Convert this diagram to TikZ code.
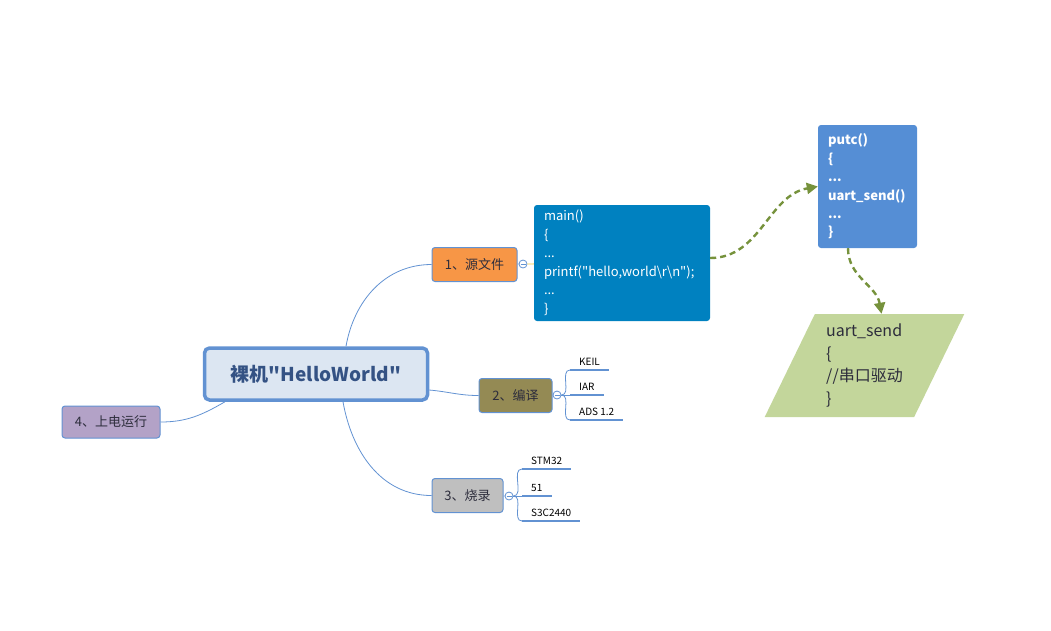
\documentclass[tikz,border=0pt]{standalone}
\usepackage{fontspec}
\setmainfont{Noto Sans CJK SC}
\newfontfamily\cjkfont{Noto Sans CJK SC}
\usetikzlibrary{arrows.meta,positioning,shapes.geometric}

\definecolor{linec}{RGB}{98,146,210}
\definecolor{hwfill}{RGB}{220,230,242}
\definecolor{hwtext}{RGB}{52,82,132}
\definecolor{txtc}{RGB}{45,45,60}
\definecolor{srcfill}{RGB}{247,150,70}
\definecolor{compfill}{RGB}{148,138,84}
\definecolor{burnfill}{RGB}{191,191,191}
\definecolor{runfill}{RGB}{179,162,199}
\definecolor{mainfill}{RGB}{0,129,192}
\definecolor{putcfill}{RGB}{85,142,213}
\definecolor{uartfill}{RGB}{195,214,155}
\definecolor{flowc}{RGB}{118,146,60}
\definecolor{tipc}{RGB}{240,200,60}

\begin{document}
\begin{tikzpicture}[
  x=1pt, y=-1pt,
  every node/.style={font=\cjkfont\fontsize{13}{16}\selectfont},
  topic/.style ={draw=linec, line width=1pt, rounded corners=3pt,
                 minimum height=34pt, text=txtc, inner sep=0pt},
  fold/.style  ={circle, draw=linec, fill=white, line width=0.8pt,
                 minimum size=8pt, inner sep=0pt,
                 path picture={\draw[linec, line width=0.6pt]
                   ([xshift=-2.5pt]path picture bounding box.center) --
                   ([xshift=2.5pt]path picture bounding box.center);}},
  leaf/.style  ={anchor=south west, inner xsep=9pt, inner ysep=4pt,
                 text depth=0pt, text=black,
                 font=\cjkfont\fontsize{10}{12}\selectfont},
  conn/.style  ={draw=linec, line width=0.8pt},
  uline/.style ={draw=linec, line width=2pt},
  code/.style  ={rounded corners=3pt, text=white, align=left,
                 inner xsep=10pt, inner ysep=0pt,
                 font=\cjkfont\fontsize{13}{18.5}\selectfont},
  flow/.style  ={draw=flowc, line width=2.4pt, dash pattern=on 6pt off 4pt,
                 -{Triangle[length=11pt,width=11pt]}}
]
\useasboundingbox (0,0) rectangle (1051,630);

% central topic
\node[draw=linec, line width=3.5pt, fill=hwfill, rounded corners=5pt,
      minimum width=223pt, minimum height=52pt, text=hwtext,
      font=\cjkfont\fontsize{19}{22}\selectfont\bfseries] (hw) at (316,374)
     {裸机"HelloWorld"};

% main branches
\node[topic, fill=srcfill,  minimum width=85pt] (src)  at (474.5,264.5) {1、源文件};
\node[topic, fill=compfill, minimum width=73pt] (comp) at (515.5,395.5) {2、编译};
\node[topic, fill=burnfill, minimum width=71pt] (burn) at (467.5,495.5) {3、烧录};
\node[topic, fill=runfill,  minimum width=98pt, minimum height=32pt] (run) at (111,422) {4、上电运行};

\draw[conn] ([xshift=30pt]hw.north) to[out=80,in=180] (src.west);
\draw[conn] ([yshift=-16pt]hw.east) to[out=-5,in=180] (comp.west);
\draw[conn] ([xshift=27pt]hw.south) to[out=-80,in=180] (burn.west);
\draw[conn] ([xshift=-91pt]hw.south) to[out=-150,in=0] (run.east);

% fold marks
\node[fold] (cSrc)  at (523,264) {};
\node[fold] (cComp) at (557,395) {};
\node[fold] (cBurn) at (509,496) {};
\draw[conn] (src)  -- (cSrc);
\draw[conn] (comp) -- (cComp);
\draw[conn] (burn) -- (cBurn);

% compilers
\node[leaf] (keil) at (570,370) {KEIL};
\node[leaf] (iar)  at (570,395) {IAR};
\node[leaf] (ads)  at (570,420) {ADS 1.2};
\foreach \n in {keil,iar,ads}
  \draw[conn] (cComp.east) to[out=0,in=180] (\n.south west);
\foreach \n in {keil,iar,ads}
  \draw[uline] (\n.south west) -- (\n.south east);

% boards
\node[leaf] (stm)  at (522,469) {STM32};
\node[leaf] (five) at (522,496) {51};
\node[leaf] (s3c)  at (522,521) {S3C2440};
\foreach \n in {stm,five,s3c}
  \draw[conn] (cBurn.east) to[out=0,in=180] (\n.south west);
\foreach \n in {stm,five,s3c}
  \draw[uline] (\n.south west) -- (\n.south east);

% source code chain
\node[code, fill=mainfill, text width=156pt, minimum height=116pt] (mainc) at (622,263)
     {main()\\\{\\...\\printf("hello,world\textbackslash r\textbackslash n");\\...\\\}};
\draw[tipc, line width=0.8pt] (cSrc) -- (mainc);

\node[code, fill=putcfill, text width=79pt, minimum height=123pt,
      font=\cjkfont\fontsize{13}{18.4}\selectfont\bfseries] (putc) at (867.5,186.5)
     {putc()\\\{\\...\\uart\_send()\\...\\\}};

\node[trapezium, trapezium left angle=65, trapezium right angle=115,
      trapezium stretches=true, fill=uartfill, minimum width=200pt,
      minimum height=103pt, inner sep=0pt, align=left, text=txtc,
      font=\cjkfont\fontsize{16}{22.5}\selectfont] (uart) at (864.5,365.5)
     {uart\_send\\\{\\//串口驱动\\\}};

\draw[flow] ([yshift=5pt]mainc.east) to[out=0,in=190] (putc.west);
\draw[flow] ([xshift=-19.5pt]putc.south) to[out=-90,in=100] ([xshift=17pt]uart.north);

\end{tikzpicture}
\end{document}
